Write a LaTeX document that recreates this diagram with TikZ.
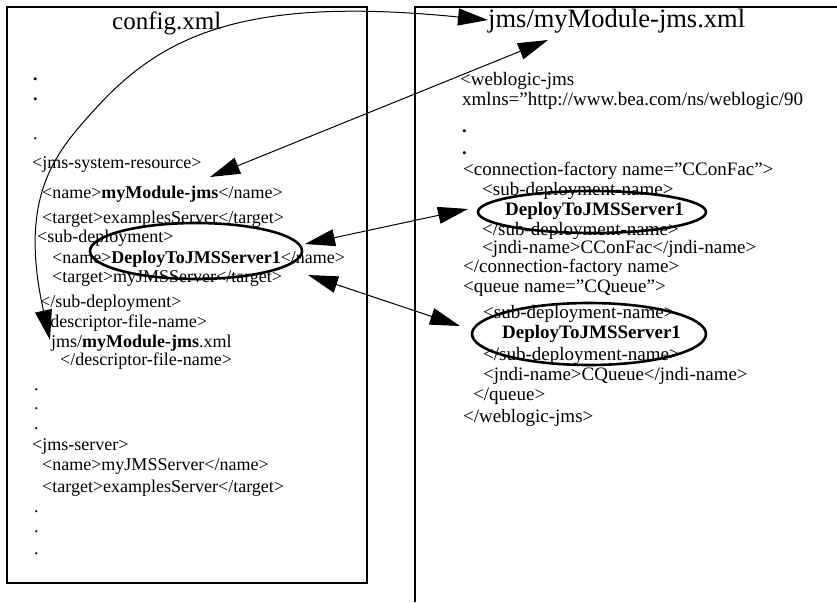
\documentclass[tikz,border=0pt]{standalone}
\usepackage{fontspec}
\setmainfont{Liberation Serif}
\usepackage{tikz}
\usetikzlibrary{arrows.meta,shapes.geometric}

\begin{document}
\begin{tikzpicture}[x=1pt,y=-1pt,
	lft/.style={anchor=base west,inner sep=0pt,font=\fontsize{18}{20}\selectfont},
	rgt/.style={anchor=base west,inner sep=0pt,font=\fontsize{19}{21}\selectfont},
	ttl/.style={anchor=base west,inner sep=0pt,font=\fontsize{25}{28}\selectfont},
	ring/.style={draw,ellipse,line width=2.6pt,inner sep=0pt},
	link/.style={{Triangle[length=30pt,width=17pt]}-{Triangle[length=30pt,width=17pt]},line width=1pt}]
						\useasboundingbox (0,0) rectangle (837,602);
						\draw[line width=2.8pt] (7,7) rectangle (367,583);
						\draw[line width=2.8pt] (415,602) -- (415,7) -- (837,7);
						\node[ttl] (cfgTitle) at (112,30) {config.xml};
						\node[ttl,font=\fontsize{26.5}{29}\selectfont] (jmsTitle) at (488,28) {jms/myModule-jms.xml};
						\node[lft] (c1) at (33,80) {\textbf{.}}; \node[lft] (c2) at (33,100) {\textbf{.}}; \node[lft] (c3) at (33,139) {.};
						\node[lft] (c4) at (32,168) {<jms-system-resource>};
						\node[lft] (c5) at (42,198) {<name>\textbf{myModule-jms}</name>};
						\node[lft] (c6) at (42,223) {<target>examplesServer</target>};
						\node[lft] (c7) at (37,242) {<sub-deployment>};
						\node[lft] (c8) at (52,263) {<name>\textbf{DeployToJMSServer1}</name>};
						\node[lft] (c9) at (52,282) {<target>myJMSServer</target>};
						\node[lft] (c10) at (40,307) {</sub-deployment>};
						\node[lft] (c11) at (40,327) {<descriptor-file-name>};
						\node[lft] (c12) at (51,347) {jms/\textbf{myModule-jms}.xml};
						\node[lft] (c13) at (60,365) {</descriptor-file-name>};
						\node[lft] (c14) at (34,390) {.}; \node[lft] (c15) at (34,409) {.}; \node[lft] (c16) at (34,429) {.};
						\node[lft] (c17) at (32,450) {<jms-server>};
						\node[lft] (c18) at (42,470) {<name>myJMSServer</name>};
						\node[lft] (c19) at (42,492) {<target>examplesServer</target>};
						\node[lft] (c20) at (34,512) {.}; \node[lft] (c21) at (34,532) {.}; \node[lft] (c22) at (34,554) {.};
						\node[rgt] (j1) at (460,85) {<weblogic-jms};
						\node[rgt] (j2) at (462,105) {xmlns=”http://www.bea.com/ns/weblogic/90};
						\node[rgt] (j3) at (462,132) {\textbf{.}}; \node[rgt] (j4) at (462,154) {\textbf{.}};
						\node[rgt] (j5) at (463,175) {<connection-factory name=”CConFac”>};
						\node[rgt] (j6) at (482,195) {<sub-deployment-name>};
						\node[rgt] (j7) at (505,215) {\textbf{DeployToJMSServer1}};
						\node[rgt] (j8) at (482,235) {</sub-deployment-name>};
						\node[rgt] (j9) at (482,253) {<jndi-name>CConFac</jndi-name>};
						\node[rgt] (j10) at (463,272) {</connection-factory name>};
						\node[rgt] (j11) at (463,292) {<queue name=”CQueue”>};
						\node[rgt] (j12) at (483,318) {<sub-deployment-name>};
						\node[rgt] (j13) at (502,338) {\textbf{DeployToJMSServer1}};
						\node[rgt] (j14) at (483,360) {</sub-deployment-name>};
						\node[rgt] (j15) at (483,380) {<jndi-name>CQueue</jndi-name>};
						\node[rgt] (j16) at (473,400) {</queue>};
						\node[rgt] (j17) at (463,422) {</weblogic-jms>};
						\node[ring,minimum width=212pt,minimum height=56pt] (ovA) at (196,251) {};
						\node[ring,minimum width=228pt,minimum height=42pt] (ovB) at (592,212) {};
						\node[ring,minimum width=234pt,minimum height=62pt] (ovC) at (589,334) {};
						\coordinate (fileTip) at (50,340); \coordinate (bendPt) at (97,107); \coordinate (titleTip) at (488,20);
						\coordinate (resTip) at (210,177); \coordinate (headTip) at (548,40);
						\coordinate (ovAup) at (305,244); \coordinate (ovBtip) at (468,209);
						\coordinate (ovAdn) at (308,275); \coordinate (ovCtip) at (460,326);
						\draw[link] (fileTip) .. controls (17.5,194) and (56.5,151.3) .. (bendPt) .. controls (164.5,33.2) and (249.2,-4) .. (titleTip);
						\draw[link] (resTip) -- (headTip);
						\draw[link] (ovAup) -- (ovBtip);
						\draw[link] (ovAdn) -- (ovCtip);
					\end{tikzpicture}
\end{document}
